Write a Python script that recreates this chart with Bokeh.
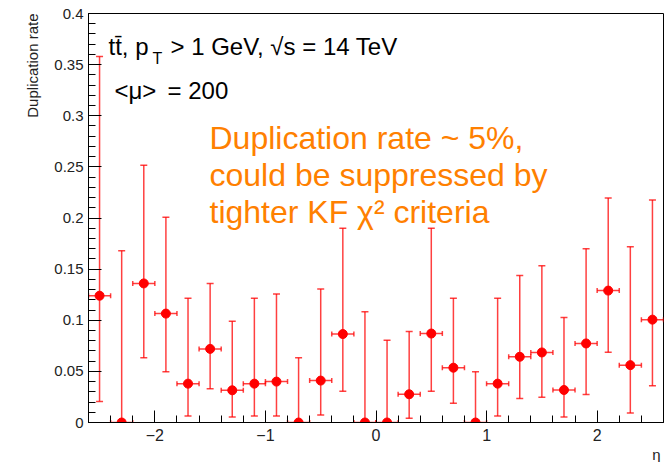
import math
from bokeh.plotting import figure
from bokeh.models import (ColumnDataSource, Range1d, FixedTicker, Whisker, TeeHead, Label, Title)
from bokeh.embed import file_html
from bokeh.resources import INLINE

# ---------------- data ----------------
eta = [-2.5, -2.3, -2.1, -1.9, -1.7, -1.5, -1.3, -1.1, -0.9, -0.7, -0.5, -0.3, -0.1,
       0.1, 0.3, 0.5, 0.7, 0.9, 1.1, 1.3, 1.5, 1.7, 1.9, 2.1, 2.3, 2.5]
eta_lo = [-2.6, -2.4, -2.2, -2.0, -1.8, -1.6, -1.4, -1.2, -1.0, -0.8, -0.6, -0.4, -0.2,
          0.0, 0.2, 0.4, 0.6, 0.8, 1.0, 1.2, 1.4, 1.6, 1.8, 2.0, 2.2, 2.4]
eta_hi = [-2.4, -2.2, -2.0, -1.8, -1.6, -1.4, -1.2, -1.0, -0.8, -0.6, -0.4, -0.2, 0.0,
          0.2, 0.4, 0.6, 0.8, 1.0, 1.2, 1.4, 1.6, 1.8, 2.0, 2.2, 2.4, 2.6]
dup_rate = [0.124, 0.0, 0.136, 0.1065, 0.038, 0.072, 0.0315, 0.038, 0.040, 0.0, 0.041, 0.0865, 0.0,
            0.0, 0.0276, 0.087, 0.0536, 0.0, 0.038, 0.0643, 0.0685, 0.0318, 0.0773, 0.129, 0.0561, 0.1006]
err_upper = [0.358, 0.168, 0.2516, 0.2007, 0.1214, 0.136, 0.099, 0.1214, 0.1257, 0.0633, 0.1305, 0.190, 0.1084,
             0.0805, 0.0889, 0.190, 0.1214, 0.0497, 0.1214, 0.1438, 0.1532, 0.1026, 0.170, 0.2195, 0.172, 0.2175]
err_lower = [0.0205, 0.0, 0.0633, 0.0497, 0.0064, 0.0331, 0.0055, 0.0064, 0.0064, 0.0, 0.0074, 0.0305, 0.0,
             0.0, 0.0042, 0.0305, 0.0188, 0.0, 0.0064, 0.0234, 0.0246, 0.0055, 0.0273, 0.0688, 0.0094, 0.036]

y_ticks = [0.0, 0.05, 0.1, 0.15, 0.2, 0.25, 0.3, 0.35, 0.4]
y_tick_labels = ["0", "0.05", "0.1", "0.15", "0.2", "0.25", "0.3", "0.35", "0.4"]
y_minor = [i / 100 for i in range(0, 41)]
x_ticks = [-2, -1, 0, 1, 2]
x_tick_labels = ["\u22122", "\u22121", "0", "1", "2"]
x_minor = [-2.6, -2.4, -2.2, -2.0, -1.8, -1.6, -1.4, -1.2, -1.0, -0.8, -0.6, -0.4, -0.2, 0.0,
           0.2, 0.4, 0.6, 0.8, 1.0, 1.2, 1.4, 1.6, 1.8, 2.0, 2.2, 2.4, 2.6]

FONT = "Liberation Sans"
RED = "#ff0000"
ORANGE = "#ff8000"

src = ColumnDataSource(dict(x=eta, y=dup_rate, lo=err_lower, hi=err_upper, xl=eta_lo, xh=eta_hi))

p = figure(width=664, height=462, output_backend="svg", toolbar_location=None,
           x_range=Range1d(-2.6, 2.6), y_range=Range1d(0, 0.4),
           min_border_left=88, min_border_right=1, min_border_top=13, min_border_bottom=39)
p.background_fill_color = "white"
p.border_fill_color = "white"
p.outline_line_color = "black"
p.outline_line_width = 1
p.xgrid.visible = False
p.ygrid.visible = False

# axes
for ax in (p.xaxis[0], p.yaxis[0]):
    ax.axis_line_color = "black"
    ax.major_tick_line_color = "black"
    ax.minor_tick_line_color = "black"
    ax.major_tick_out = 0
    ax.minor_tick_out = 0
    ax.major_label_text_font = FONT
    ax.major_label_text_color = "#222222"

p.yaxis.ticker = FixedTicker(ticks=y_ticks, minor_ticks=y_minor)
p.yaxis.major_label_overrides = {t: l for t, l in zip(y_ticks, y_tick_labels)}
p.yaxis.major_tick_in = 13
p.yaxis.minor_tick_in = 7
p.yaxis.major_label_text_font_size = "15px"
p.yaxis.major_label_standoff = 5

p.xaxis.ticker = FixedTicker(ticks=x_ticks, minor_ticks=x_minor)
p.xaxis.major_label_overrides = {t: l for t, l in zip(x_ticks, x_tick_labels)}
p.xaxis.major_tick_in = 12
p.xaxis.minor_tick_in = 7
p.xaxis.major_label_text_font_size = "16px"
p.xaxis.major_label_standoff = 6

# axis titles (ROOT style, aligned to the end of the axes)
p.add_layout(Title(text="Duplication rate", align="right", text_font=FONT, text_font_size="15px",
                   text_font_style="normal", text_color="#222222", standoff=21), "left")
p.add_layout(Title(text="\u03b7", align="right", text_font=FONT, text_font_size="15px",
                   text_font_style="normal", text_color="#222222", offset=3, standoff=0), "below")

# error bars
vw = Whisker(source=src, base="x", upper="hi", lower="lo", dimension="height",
             line_color=RED, line_alpha=0.75, line_width=1.5,
             upper_head=TeeHead(size=7, line_color=RED, line_alpha=0.75, line_width=1.5),
             lower_head=TeeHead(size=7, line_color=RED, line_alpha=0.75, line_width=1.5))
hw = Whisker(source=src, base="y", upper="xh", lower="xl", dimension="width",
             line_color=RED, line_alpha=0.75, line_width=1.5,
             upper_head=TeeHead(size=5, line_color=RED, line_alpha=0.75, line_width=1.5),
             lower_head=TeeHead(size=5, line_color=RED, line_alpha=0.75, line_width=1.5))
p.add_layout(vw)
p.add_layout(hw)
p.scatter("x", "y", source=src, size=9, fill_color=RED, line_color=RED)

# texts (screen units relative to frame: left=88, bottom=423 in window coords)
def lab(text, wx, wy, size, color="black", align="left", baseline="alphabetic", angle=0.0):
    p.add_layout(Label(x=wx - 88, y=423 - wy, x_units="screen", y_units="screen",
                       text=text, text_font=FONT, text_font_size=size, text_color=color,
                       text_align=align, text_baseline=baseline, angle=angle))

lab("tt\u0304, p", 108, 47, "24px")
lab("T", 152, 59, "16px")
lab("> 1 GeV, \u221as = 14 TeV", 170, 47, "24px")
lab("<\u03bc>", 114, 91, "24px")
lab("= 200", 167, 91, "24px")

lab("Duplication rate ~ 5%,", 209, 138, "32px", ORANGE)
lab("could be suppressed by", 209, 175, "32px", ORANGE)
lab("tighter KF \u03c7\u00b2 criteria", 209, 212, "32px", ORANGE)

open("out.html", "w").write(file_html(p, INLINE))
